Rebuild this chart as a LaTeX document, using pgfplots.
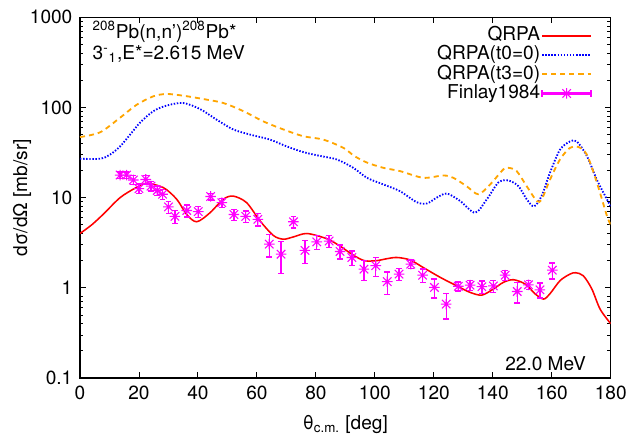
\documentclass[border=0pt]{standalone}
\usepackage{fontspec}
\setmainfont{TeX Gyre Heros}
\usepackage{pgfplots}
\usepackage{pgfplotstable}
\pgfplotsset{compat=1.18}
\definecolor{gpred}{RGB}{255,0,0}
\definecolor{gpblue}{RGB}{0,0,255}
\definecolor{gporange}{RGB}{255,165,0}
\definecolor{gpmag}{RGB}{255,0,255}
\pgfdeclareplotmark{gpast}{%
  \pgfpathmoveto{\pgfqpoint{-\pgfplotmarksize}{0pt}}%
  \pgfpathlineto{\pgfqpoint{\pgfplotmarksize}{0pt}}%
  \pgfpathmoveto{\pgfqpoint{0pt}{-\pgfplotmarksize}}%
  \pgfpathlineto{\pgfqpoint{0pt}{\pgfplotmarksize}}%
  \pgfpathmoveto{\pgfqpoint{-.8\pgfplotmarksize}{-.8\pgfplotmarksize}}%
  \pgfpathlineto{\pgfqpoint{.8\pgfplotmarksize}{.8\pgfplotmarksize}}%
  \pgfpathmoveto{\pgfqpoint{-.8\pgfplotmarksize}{.8\pgfplotmarksize}}%
  \pgfpathlineto{\pgfqpoint{.8\pgfplotmarksize}{-.8\pgfplotmarksize}}%
  \pgfusepathqstroke}

\pgfplotstableread{
x y
0 4.0
4 5.0
8 6.6
13.6 10
19 12.9
22.6 14.4
28.3 12.9
32.8 9.6
36.2 6.5
39.6 5.4
44.1 6.8
48.6 9.6
52 10.4
56.5 8.8
61.1 5.5
65.6 3.8
69 3.46
72.4 3.67
77 4.0
83.7 3.5
88.2 2.9
92.7 2.3
96.5 2.0
100.6 2.0
104 2.1
107.4 2.17
111.9 2.04
116.4 1.68
122.1 1.31
127.8 1.05
132.3 0.89
136.3 0.83
140.2 0.97
143.6 1.15
147 1.23
151 1.1
154.3 0.86
157.2 0.75
159.4 0.86
162.8 1.2
166.2 1.42
168.1 1.47
170.7 1.36
173.6 0.97
176.4 0.58
180 0.40
}\qrpa

\pgfplotstableread{
x y
0 27
6.8 27
10.2 30
13.6 37
17 50
20.4 68
24.9 91
29.4 105
35 112
40.7 96
46.4 73
52 57
57.7 50
64.4 44
70.1 37
75.7 32
81.4 29
87.1 26.5
92.7 21.4
97.3 16.6
102.9 14
108.5 11.8
114.2 8.9
117.6 8.6
121 10
124.4 11.1
128.9 9.2
134 6.8
138 9.6
141.9 14.7
145.3 15.5
148.7 13.4
151.5 9.6
154 8.0
156.6 10.5
159.4 18.9
162.8 34
166.2 42
168.5 42
171.9 29
175.3 15.8
178.7 9.6
180 8.0
}\qrpatzero

\pgfplotstableread{
x y
0 47
6.8 53
13.6 77
19.2 107
24.9 133
29.4 141
35 135
41.8 124
48.6 112
55.4 91
62.2 70
69 57
75.7 48
82.5 44
89.3 35.7
93 29
97.3 24.5
102.9 21.4
108.5 19.7
116.4 16.6
123.2 17.6
126.6 16.6
131.1 13.4
135.1 10.9
139.1 14
143.6 20.6
145.3 21.4
148.1 19.7
151.5 13.4
154.9 9.2
156.6 9.6
159.4 15.8
162.8 26.5
166.2 35.7
169 36.5
171.9 30
175.3 14.7
178.7 6.3
180 5
}\qrpatthree

\pgfplotstableread{
x y e
13.6 17.8 1.4
15.8 17.8 1.4
18.1 15.7 1.8
20.0 12.6 1.5
22.3 15.9 1.8
24.1 13.4 1.6
26.2 12.0 1.5
28.0 10.9 1.4
30.0 7.9 1.2
32.2 6.2 1.05
36.2 7.2 1.1
40.1 7.0 1.0
44.3 10.3 0.9
48.1 8.8 1.0
52.2 6.5 0.9
56.2 6.2 0.9
60.3 5.75 0.9
64.2 3.05 0.85
68.2 2.36 0.92
72.4 5.4 0.8
76.3 2.6 0.75
80.3 3.23 0.55
84.5 3.3 0.5
88.2 2.53 0.45
92.2 2.17 0.4
96.3 1.61 0.4
100.3 1.76 0.42
104.2 1.17 0.33
108.2 1.42 0.22
112.2 1.83 0.2
116.2 1.38 0.24
120.2 1.01 0.24
124.2 0.66 0.21
128.3 1.04 0.12
132.3 1.07 0.14
136.3 1.03 0.16
140.2 1.05 0.16
144.2 1.38 0.17
148.3 0.91 0.23
152.1 1.08 0.12
156.0 0.95 0.18
160.2 1.57 0.32
}\finlay

\begin{document}
\fontsize{10.5}{12.6}\selectfont
\begin{tikzpicture}
\useasboundingbox (-44pt,-32.45pt) rectangle (310.2pt,207.9pt);
\begin{axis}[
  at={(0pt,0pt)}, anchor=south west,
  scale only axis, width=291.9pt, height=198.4pt,
  ymode=log, xmin=0, xmax=180, ymin=0.1, ymax=1000,
  xtick={0,20,...,180}, minor x tick num=0,
  ytick={0.1,1,10,100,1000}, yticklabels={0.1,1,10,100,1000},
  minor ytick={0.2,0.3,...,0.9,2,3,...,9,20,30,...,90,200,300,...,900},
  /pgf/number format/assume math mode=true,
  tick align=inside, major tick length=3.3pt, minor tick length=1.8pt,
  axis line style={line width=0.7pt}, every tick/.style={black, line width=0.5pt},
  xticklabel style={yshift=-0.5pt}, yticklabel style={xshift=-0.5pt},
  xlabel={θ\textsubscript{c.m.} [deg]},
  ylabel={dσ/dΩ [mb/sr]},
  xlabel style={at={(rel axis cs:0.5,-0.144)}, anchor=base},
  ylabel style={at={(rel axis cs:-0.1093,0.5)}, anchor=center},
  legend plot pos=right, legend cell align=right,
  legend style={at={(rel axis cs:0.966,0.975)}, anchor=north east, draw=none, fill=none, inner sep=0pt, row sep=0pt,
    nodes={inner sep=0.5pt, text height=7.3pt, text depth=2.2pt}},
  legend image code/.code={\draw[#1] (0pt,0pt) -- (27pt,0pt);},
]
\addplot[gpred, line width=0.85pt, smooth] table[x=x,y=y] {\qrpa};
\addlegendentry{QRPA}
\addplot[gpblue, line width=1pt, dash pattern=on 0.8pt off 0.9pt, smooth] table[x=x,y=y] {\qrpatzero};
\addlegendentry{QRPA(t0=0)}
\addplot[gporange, line width=1pt, dash pattern=on 2.8pt off 2.2pt, smooth] table[x=x,y=y] {\qrpatthree};
\addlegendentry{QRPA(t3=0)}
\addplot[color=gpmag, only marks, mark=gpast, mark size=2.9pt, line width=0.6pt,
  legend image code/.code={%
    \fill[gpmag] (0pt,-0.3pt) rectangle (27pt,0.3pt);
    \fill[gpmag] (-0.3pt,-1.7pt) rectangle (0.3pt,1.7pt);
    \fill[gpmag] (26.7pt,-1.7pt) rectangle (27.3pt,1.7pt);
    \path[draw=gpmag, line width=0.6pt] plot[only marks, mark=gpast, mark size=2.9pt] coordinates {(13.5pt,0pt)};},
  error bars/.cd, y dir=both, y explicit, error mark=-,
  error bar style={draw=gpmag, line width=0.75pt, solid},
  error mark options={rotate=90, draw=gpmag, mark size=1.6pt, line width=0.75pt}]
  table[x=x, y=y, y error=e] {\finlay};
\addlegendentry{Finlay1984}
\node[anchor=base west] at (rel axis cs:0.0113,0.942) {\textsuperscript{208}Pb(n,n')\textsuperscript{208}Pb*};
\node[anchor=base west] at (rel axis cs:0.0113,0.882) {3\textsuperscript{-}\textsubscript{1},E*=2.615 MeV};
\node[anchor=base east] at (rel axis cs:0.966,0.022) {22.0 MeV};
\end{axis}
\end{tikzpicture}
\end{document}
